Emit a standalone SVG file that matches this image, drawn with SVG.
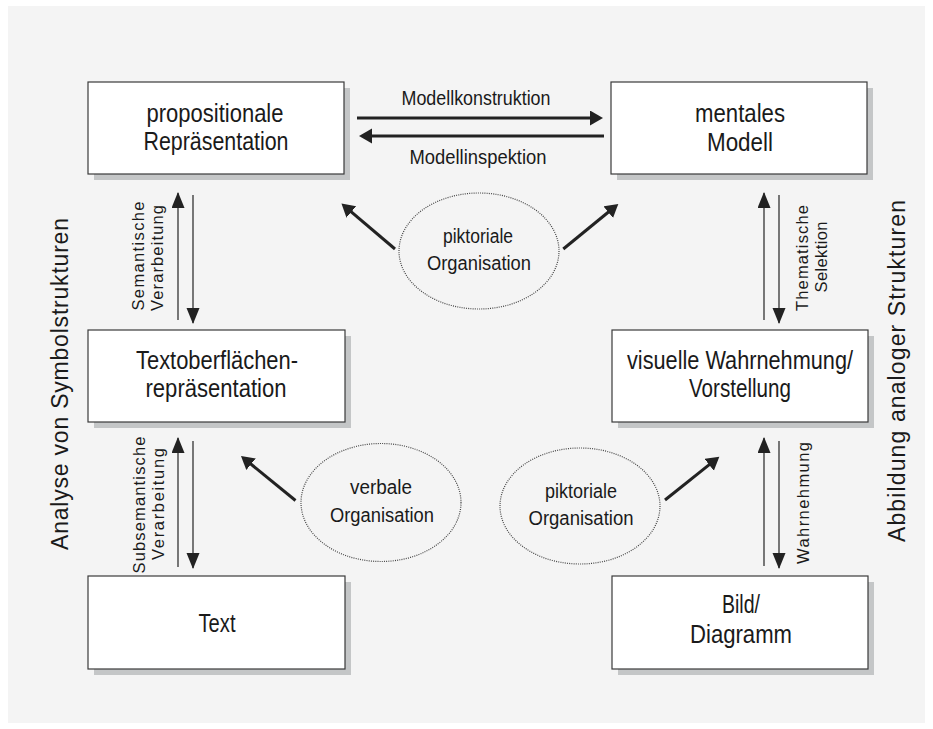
<svg xmlns="http://www.w3.org/2000/svg" width="933" height="729" viewBox="0 0 933 729">
<defs>
<style>
text{font-family:"Liberation Sans",Arial,sans-serif;fill:#1a1a1a}
.bt{font-size:25px;text-anchor:middle}
.lt{font-size:20px;text-anchor:middle}
.vt{font-size:16.5px;text-anchor:middle}
.st{font-size:23px;text-anchor:middle}
.box{fill:#ffffff;stroke:#3a3a3a;stroke-width:1.2}
.shadow{fill:#c4c6c7}
.ell{fill:none;stroke:#444;stroke-width:1.2;stroke-dasharray:1 1.2}
.thick{stroke:#222;stroke-width:3;fill:none;marker-end:url(#hk)}
.thin{stroke:#222;stroke-width:1.2;fill:none;marker-end:url(#hn)}
</style>
<marker id="hk" markerUnits="userSpaceOnUse" markerWidth="14" markerHeight="16" refX="9" refY="7.5" orient="auto"><path d="M0,0 L13,7.5 L0,15 z" fill="#222"/></marker>
<marker id="hn" markerUnits="userSpaceOnUse" markerWidth="17" markerHeight="14" refX="15" refY="6.5" orient="auto"><path d="M0,0 L16,6.5 L0,13 z" fill="#222"/></marker>
</defs>
<rect x="0" y="0" width="933" height="729" fill="#ffffff"/>
<rect x="8" y="6" width="917" height="717" fill="#f4f4f4"/>

<g id="node-propositionale">
<rect class="shadow" x="94" y="88" width="256" height="92"/>
<rect class="box" x="88" y="82" width="256" height="92"/>
<text class="bt" x="215" y="122" textLength="137" lengthAdjust="spacingAndGlyphs">propositionale</text>
<text class="bt" x="216" y="150" textLength="145" lengthAdjust="spacingAndGlyphs">Repräsentation</text>
</g>
<g id="node-mentales">
<rect class="shadow" x="617" y="88" width="256" height="92"/>
<rect class="box" x="611" y="82" width="256" height="92"/>
<text class="bt" x="740" y="122" textLength="90" lengthAdjust="spacingAndGlyphs">mentales</text>
<text class="bt" x="740" y="151" textLength="66" lengthAdjust="spacingAndGlyphs">Modell</text>
</g>
<g id="node-textoberflaechen">
<rect class="shadow" x="94" y="336" width="257" height="92"/>
<rect class="box" x="88" y="330" width="257" height="92"/>
<text class="bt" x="217" y="369" textLength="162" lengthAdjust="spacingAndGlyphs">Textoberflächen-</text>
<text class="bt" x="216" y="397" textLength="141" lengthAdjust="spacingAndGlyphs">repräsentation</text>
</g>
<g id="node-visuelle">
<rect class="shadow" x="618" y="336" width="256" height="92"/>
<rect class="box" x="612" y="330" width="256" height="92"/>
<text class="bt" x="740" y="369" textLength="226" lengthAdjust="spacingAndGlyphs">visuelle Wahrnehmung/</text>
<text class="bt" x="740" y="397" textLength="102" lengthAdjust="spacingAndGlyphs">Vorstellung</text>
</g>
<g id="node-text">
<rect class="shadow" x="94" y="582" width="257" height="93"/>
<rect class="box" x="88" y="576" width="257" height="93"/>
<text class="bt" x="217" y="632" textLength="37" lengthAdjust="spacingAndGlyphs">Text</text>
</g>
<g id="node-bild">
<rect class="shadow" x="618" y="582" width="256" height="93"/>
<rect class="box" x="612" y="576" width="256" height="93"/>
<text class="bt" x="741" y="613" textLength="38" lengthAdjust="spacingAndGlyphs">Bild/</text>
<text class="bt" x="741" y="643" textLength="102" lengthAdjust="spacingAndGlyphs">Diagramm</text>
</g>

<g id="node-piktoriale-top">
<ellipse class="ell" cx="479" cy="251" rx="80" ry="58"/>
<text class="lt" x="478" y="243" textLength="70" lengthAdjust="spacingAndGlyphs">piktoriale</text>
<text class="lt" x="479" y="270" textLength="104" lengthAdjust="spacingAndGlyphs">Organisation</text>
</g>
<g id="node-verbale">
<ellipse class="ell" cx="381" cy="502.5" rx="80" ry="59"/>
<text class="lt" x="381" y="494" textLength="62" lengthAdjust="spacingAndGlyphs">verbale</text>
<text class="lt" x="382" y="522" textLength="104" lengthAdjust="spacingAndGlyphs">Organisation</text>
</g>
<g id="node-piktoriale-bottom">
<ellipse class="ell" cx="580" cy="506" rx="80" ry="58"/>
<text class="lt" x="581" y="498" textLength="72" lengthAdjust="spacingAndGlyphs">piktoriale</text>
<text class="lt" x="581" y="525" textLength="105" lengthAdjust="spacingAndGlyphs">Organisation</text>
</g>

<g id="connectors">
<line class="thick" x1="357" y1="118" x2="599" y2="118"/>
<line class="thick" x1="604" y1="136" x2="363" y2="136"/>
<text class="lt" x="476" y="105" textLength="149" lengthAdjust="spacingAndGlyphs">Modellkonstruktion</text>
<text class="lt" x="478" y="164" textLength="137" lengthAdjust="spacingAndGlyphs">Modellinspektion</text>

<line class="thin" x1="178" y1="320" x2="178" y2="193"/>
<line class="thin" x1="193" y1="195" x2="193" y2="323"/>
<line class="thin" x1="178" y1="567" x2="178" y2="438"/>
<line class="thin" x1="193" y1="441" x2="193" y2="568"/>
<line class="thin" x1="764" y1="320" x2="764" y2="193"/>
<line class="thin" x1="779" y1="195" x2="779" y2="323"/>
<line class="thin" x1="764" y1="566" x2="764" y2="438"/>
<line class="thin" x1="779" y1="441" x2="779" y2="568"/>

<text class="vt" transform="translate(144,256) rotate(-90)" textLength="109" lengthAdjust="spacing">Semantische</text>
<text class="vt" transform="translate(163,258) rotate(-90)" textLength="106" lengthAdjust="spacing">Verarbeitung</text>
<text class="vt" transform="translate(145,505) rotate(-90)" textLength="137" lengthAdjust="spacing">Subsemantische</text>
<text class="vt" transform="translate(164,504) rotate(-90)" textLength="112" lengthAdjust="spacing">Verarbeitung</text>
<text class="vt" transform="translate(808,258) rotate(-90)" textLength="106" lengthAdjust="spacing">Thematische</text>
<text class="vt" transform="translate(827,257) rotate(-90)" textLength="71" lengthAdjust="spacing">Selektion</text>
<text class="vt" transform="translate(809,503) rotate(-90)" textLength="122" lengthAdjust="spacing">Wahrnehmung</text>

<line class="thick" x1="395" y1="249" x2="344.5" y2="206.1"/>
<line class="thick" x1="563.3" y1="249" x2="615.2" y2="206.5"/>
<line class="thick" x1="295.5" y1="500.5" x2="244.1" y2="458.5"/>
<line class="thick" x1="665" y1="500" x2="716.2" y2="459.2"/>
</g>

<text class="st" transform="translate(68,384) rotate(-90)" textLength="332" lengthAdjust="spacing">Analyse von Symbolstrukturen</text>
<text class="st" transform="translate(905,371) rotate(-90)" textLength="342" lengthAdjust="spacing">Abbildung analoger Strukturen</text>
</svg>
